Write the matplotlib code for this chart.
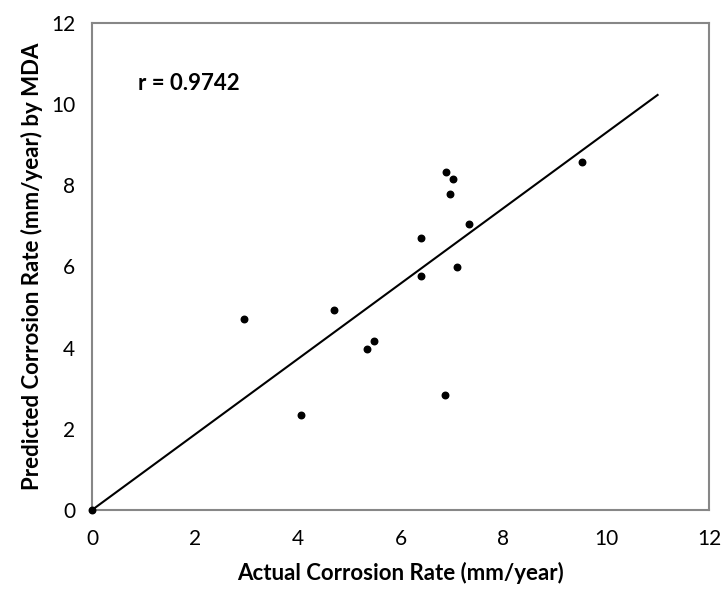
import matplotlib.pyplot as plt

# Actual vs predicted corrosion rates (mm/year)
actual = [0.0, 2.96, 4.07, 4.71, 5.35, 5.49, 6.39, 6.39, 6.87, 6.89, 6.97, 7.02, 7.10, 7.33, 9.53]
predicted = [0.0, 4.70, 2.34, 4.93, 3.97, 4.17, 6.71, 5.76, 2.84, 8.33, 7.79, 8.15, 5.98, 7.04, 8.57]

# fitted line end points
fit_x = [0.0, 11.0]
fit_y = [0.0, 10.22]

plt.rcParams['font.family'] = ['Lato', 'DejaVu Sans']

fig = plt.figure(figsize=(7.22, 5.92), dpi=100)
ax = fig.add_axes([0.1274, 0.1385, 0.8546, 0.8232])

ax.plot(fit_x, fit_y, color='black', linewidth=1.5)
ax.scatter(actual, predicted, s=22, color='black', zorder=3, clip_on=False)

ax.set_xlim(0, 12)
ax.set_ylim(0, 12)
ax.set_xticks(range(0, 13, 2))
ax.set_yticks(range(0, 13, 2))
ax.tick_params(length=0, labelsize=15)
ax.tick_params(axis='x', pad=14)
ax.tick_params(axis='y', pad=12)

for side in ax.spines.values():
    side.set_color('#878787')
    side.set_linewidth(1.5)

ax.set_xlabel('Actual Corrosion Rate (mm/year)', fontsize=16, fontweight='bold', labelpad=9)
ax.set_ylabel('Predicted Corrosion Rate (mm/year) by MDA', fontsize=16, fontweight='bold', labelpad=6)
ax.text(0.9, 10.5, 'r = 0.9742', fontsize=16, fontweight='bold', va='center')

fig.savefig('out.png', dpi=100)
